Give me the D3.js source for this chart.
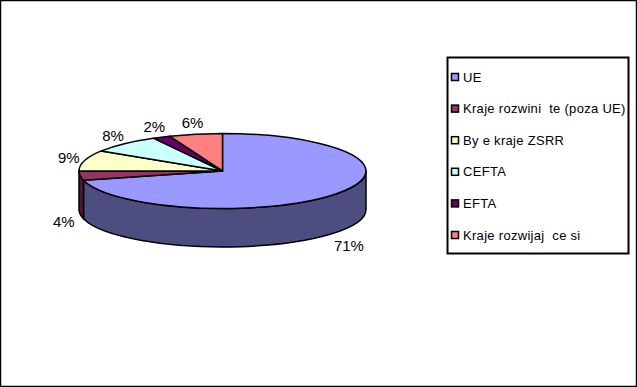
<!DOCTYPE html>
<html><head><meta charset="utf-8">
<script src="https://cdn.jsdelivr.net/npm/d3@7"></script>
<style>html,body{margin:0;padding:0;background:#fff}svg{display:block}text{white-space:pre}</style>
</head><body>
<svg id="c" width="637" height="387"></svg>
<script>
const categories = ["UE", "Kraje rozwini  te (poza UE)", "By e kraje ZSRR", "CEFTA", "EFTA", "Kraje rozwijaj  ce si"];
const values = [71, 4, 9, 8, 2, 6];
const labels = ["71%", "4%", "9%", "8%", "2%", "6%"];
const colors = ["#9999ff", "#993366", "#ffffcc", "#ccffff", "#660066", "#ff8080"];

const W = 637, H = 387;
const svg = d3.select("#c");
svg.append("rect").attr("x", 0.5).attr("y", 0.5).attr("width", W - 1).attr("height", H - 1)
  .attr("fill", "#fff").attr("stroke", "#000").attr("stroke-width", 1.5);

const cx = 222.5, cy = 171, rx = 143.5, ry = 37.5, depth = 38.5;
const pie = d3.pie().sort(null).value(d => d)(values);
const P = (a, dy = 0) => [cx + rx * Math.sin(a), cy - ry * Math.cos(a) + dy];
const darker = c => { const k = d3.rgb(c); return d3.rgb(k.r * 0.5, k.g * 0.5, k.b * 0.5).toString(); };

const g = svg.append("g");
pie.forEach((s, i) => {
  const a0 = Math.max(s.startAngle, Math.PI / 2), a1 = Math.min(s.endAngle, 3 * Math.PI / 2);
  if (a1 <= a0) return;
  const p0 = P(a0), p1 = P(a1), q1 = P(a1, depth), q0 = P(a0, depth);
  const large = (a1 - a0) > Math.PI ? 1 : 0;
  const d = `M${p0}A${rx},${ry} 0 ${large} 1 ${p1}L${q1}A${rx},${ry} 0 ${large} 0 ${q0}Z`;
  g.append("path").attr("d", d).attr("fill", darker(colors[i]))
    .attr("stroke", "#000").attr("stroke-width", 1.5).attr("stroke-linejoin", "round");
});
pie.forEach((s, i) => {
  const p0 = P(s.startAngle), p1 = P(s.endAngle);
  const large = (s.endAngle - s.startAngle) > Math.PI ? 1 : 0;
  const d = `M${cx},${cy}L${p0}A${rx},${ry} 0 ${large} 1 ${p1}Z`;
  g.append("path").attr("d", d).attr("fill", colors[i])
    .attr("stroke", "#000").attr("stroke-width", 1.5).attr("stroke-linejoin", "round");
});
const lrx = 160, lry = 49;
pie.forEach((s, i) => {
  const m = (s.startAngle + s.endAngle) / 2;
  const front = Math.cos(m) < 0;
  const x = cx + lrx * Math.sin(m), y = cy - lry * Math.cos(m) + (front ? depth + 6 : 0);
  svg.append("text").attr("x", x).attr("y", y).attr("dy", "0.35em")
    .attr("text-anchor", "middle").attr("font-family", "Liberation Sans, Arial, sans-serif")
    .attr("font-size", 15).attr("fill", "#000").text(labels[i]);
});
const lg = svg.append("g");
lg.append("rect").attr("x", 447.5).attr("y", 57.5).attr("width", 181).attr("height", 196)
  .attr("fill", "#fff").attr("stroke", "#000").attr("stroke-width", 2);
const ly = d3.scalePoint().domain(categories).range([77, 235]);
categories.forEach((c, i) => {
  lg.append("rect").attr("x", 451.5).attr("y", ly(c) - 3.5).attr("width", 7).attr("height", 7)
    .attr("fill", colors[i]).attr("stroke", "#000").attr("stroke-width", 1.5);
  lg.append("text").attr("x", 463).attr("y", ly(c)).attr("dy", "0.35em")
    .attr("font-family", "Liberation Sans, Arial, sans-serif").attr("font-size", 13)
    .attr("letter-spacing", 0.3).attr("fill", "#000").text(c);
});
</script>
</body></html>
